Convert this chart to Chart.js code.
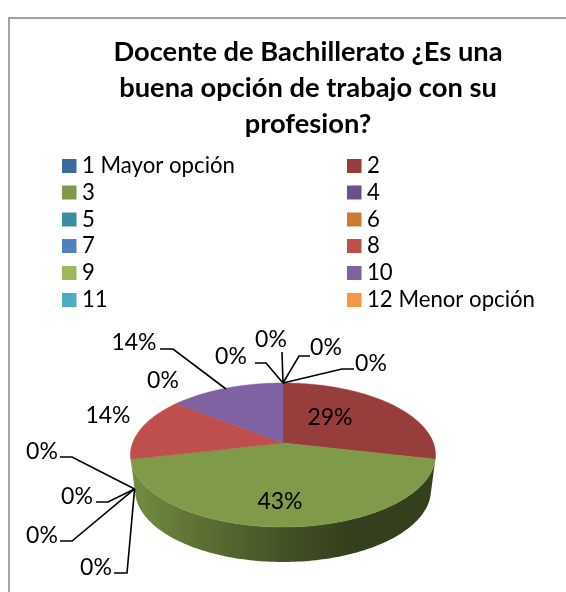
<!DOCTYPE html>
<html><head><meta charset="utf-8">
<style>html,body{margin:0;padding:0;background:#fff}canvas{display:block}</style>
<script src="https://cdn.jsdelivr.net/npm/chart.js@4"></script></head>
<body><canvas id="c" width="566" height="592"></canvas>
<script>
const titleLines = ["Docente de Bachillerato ¿Es una","buena opción de trabajo con su","profesion?"];
const categories = ["1 Mayor opción","2","3","4","5","6","7","8","9","10","11","12 Menor opción",""];
const values = [0,2,3,0,0,0,0,1,0,1,0,0,0];
const colors = ["#3D6A9E","#973D3B","#7F9A48","#6A4F8A","#3A8DA3","#CB7A33","#4F81BD","#BE4F4C","#9BBB59","#7F62A1","#4BACC6","#F79646","#2C4D75"];
const FONT = "Lato, Carlito, sans-serif";

// Legend layout (two columns, read across)
const legendX = [62,347];
const legendY = [166,192.5,219.5,246,273,300];

// Pie projection: a tilted disc seen in perspective
const disc = {cx:283, y0:443, a:70, A:150.4, persp:1/6, depth:35, shrink:0.03};
function project(angle, d){ // angle in Chart.js convention
  const u=Math.cos(angle), v=Math.sin(angle), w=1-disc.persp*v;
  const k=1-disc.shrink*d;
  return [disc.cx+disc.A*k*u/w, disc.y0+disc.depth*d+disc.a*v/w];
}
// Data-label placement by category index: text centre, then leader polyline toward the slice
const labelPlacement = {
  0:{t:[326,348],line:[[310,356],[299,356]],at:"start",d:0},
  1:{t:[330,418]},
  2:{t:[280,502]},
  3:{t:[42,452],line:[[60,457],[72,457]],at:"start",d:.85},
  4:{t:[77,497],line:[[96,502],[108,502]],at:"start",d:.85},
  5:{t:[42,536],line:[[60,541],[72,541]],at:"start",d:.85},
  6:{t:[96,568],line:[[114,573],[127,573]],at:"start",d:.85},
  7:{t:[108,416]},
  8:{t:[163,381]},
  9:{t:[134,343],line:[[160,349],[173,349]],anchor:[226,389]},
  10:{t:[231,357],line:[[255,363],[266,363]],at:"end",d:0},
  11:{t:[271,340],line:[[282,352]],at:"end",d:0},
  12:{t:[371,364],line:[[354,369],[342,369]],at:"end",d:0}
};

function wedge(ctx,arc){
  const n=Math.max(2,Math.ceil((arc.endAngle-arc.startAngle)/0.02));
  ctx.beginPath();
  ctx.moveTo(disc.cx,disc.y0);
  for(let i=0;i<=n;i++){
    const a=arc.startAngle+(arc.endAngle-arc.startAngle)*i/n;
    ctx.lineTo(...project(a,0));
  }
  ctx.closePath();
}
function wall(ctx,arc){
  const n=Math.max(2,Math.ceil((arc.endAngle-arc.startAngle)/0.02));
  ctx.beginPath();
  for(let i=0;i<=n;i++){
    const a=arc.startAngle+(arc.endAngle-arc.startAngle)*i/n;
    ctx.lineTo(...project(a,0));
  }
  for(let i=n;i>=0;i--){
    const a=arc.startAngle+(arc.endAngle-arc.startAngle)*i/n;
    ctx.lineTo(...project(a,1));
  }
  ctx.closePath();
}
function shade(hex,f){
  const n=parseInt(hex.slice(1),16);
  return `rgb(${(n>>16&255)*f|0},${(n>>8&255)*f|0},${(n&255)*f|0})`;
}
const pie3d = {
  id:"pie3d",
  beforeDraw(chart){
    const ctx=chart.ctx;
    ctx.save();
    ctx.strokeStyle="#a3a3a3"; ctx.lineWidth=2;
    ctx.strokeRect(9,18,640,700);
    ctx.restore();
  },
  beforeDatasetDraw(chart,args){
    const ctx=chart.ctx, arcs=args.meta.data, ds=chart.data.datasets[0];
    ctx.save();
    arcs.forEach((arc,i)=>{
      if(arc.endAngle-arc.startAngle<1e-6) return;
      if(Math.sin((arc.startAngle+arc.endAngle)/2)<=0) return; // back slices show no wall
      const g=ctx.createLinearGradient(130,0,436,0), c=ds.backgroundColor[i];
      g.addColorStop(0,shade(c,.92));
      g.addColorStop(.25,shade(c,.72));
      g.addColorStop(.5,shade(c,.54));
      g.addColorStop(.72,shade(c,.41));
      g.addColorStop(1,shade(c,.41));
      ctx.fillStyle=g; wall(ctx,arc); ctx.fill();
    });
    arcs.forEach((arc,i)=>{
      if(arc.endAngle-arc.startAngle<1e-6) return;
      ctx.fillStyle=ds.backgroundColor[i];
      wedge(ctx,arc); ctx.fill();
      ctx.strokeStyle=ds.backgroundColor[i]; ctx.lineWidth=.5; ctx.stroke();
    });
    ctx.restore();
    return false;
  },
  afterDraw(chart){
    const ctx=chart.ctx, arcs=chart.getDatasetMeta(0).data, ds=chart.data.datasets[0];
    const total=values.reduce((a,b)=>a+b,0);
    ctx.save();
    // legend
    ctx.textBaseline="middle"; ctx.textAlign="left"; ctx.fillStyle="#000";
    ctx.font="22.2px "+FONT;
    categories.forEach((name,i)=>{
      if(!name) return;
      const col=i%2,row=(i-col)/2,x=legendX[col],y=legendY[row];
      ctx.fillStyle=ds.backgroundColor[i];
      ctx.fillRect(x,y-7,14.5,14);
      ctx.fillStyle="#000";
      ctx.fillText(name,x+20,y);
    });
    // leader lines + data labels
    ctx.font="23px "+FONT; ctx.textAlign="center";
    values.forEach((v,i)=>{
      const p=labelPlacement[i];
      if(p.line){
        const arc=arcs[i];
        const end=p.anchor||project(p.at==="start"?arc.startAngle:arc.endAngle,p.d);
        ctx.beginPath(); ctx.strokeStyle="#000"; ctx.lineWidth=1.6;
        p.line.forEach((q,k)=>k?ctx.lineTo(q[0],q[1]):ctx.moveTo(q[0],q[1]));
        ctx.lineTo(end[0],end[1]); ctx.stroke();
      }
      ctx.fillStyle="#000";
      ctx.fillText(Math.round(v/total*100)+"%",p.t[0],p.t[1]);
    });
    ctx.restore();
  }
};
new Chart(document.getElementById("c"),{
  type:"pie",
  data:{labels:categories,datasets:[{data:values,backgroundColor:colors,borderWidth:0}]},
  options:{
    responsive:false,animation:false,
    layout:{padding:{left:50,top:34}},
    plugins:{
      legend:{display:false},tooltip:{enabled:false},
      title:{display:true,text:titleLines,color:"#000",
        font:{family:FONT,size:27.3,weight:"bold",lineHeight:1.32},padding:{top:0,bottom:0}}
    }
  },
  plugins:[pie3d]
});
</script></body></html>
